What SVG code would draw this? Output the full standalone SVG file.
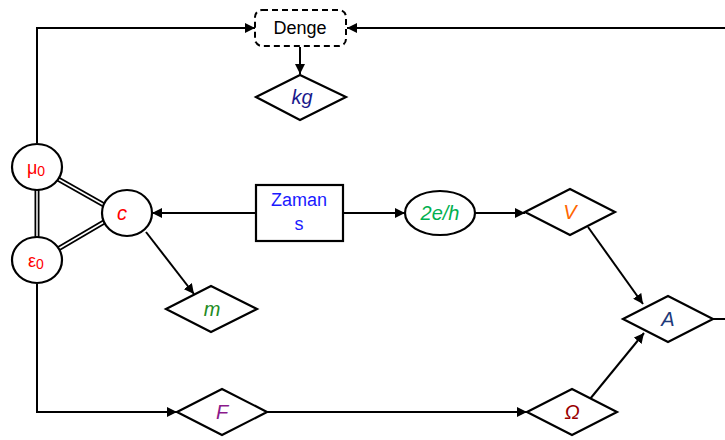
<svg xmlns="http://www.w3.org/2000/svg" width="725" height="440" viewBox="0 0 725 440">
<style>
.n{fill:#fff;stroke:#000;stroke-width:2.2}
.l{fill:none;stroke:#000;stroke-width:2}
text{font-family:"Liberation Sans",Arial,sans-serif;font-size:18px;text-anchor:middle;dominant-baseline:central}
.i{font-style:italic;font-size:20px}
</style>
<defs>
<marker id="a" viewBox="0 0 10 10" refX="10" refY="5" markerWidth="5" markerHeight="5" orient="auto"><path d="M0,0L10,5L0,10z" fill="#000"/></marker>
</defs>
<rect width="725" height="440" fill="#fff"/>
<g id="connectors">
<polyline class="l" points="37,143 37,28 255,28" marker-end="url(#a)"/>
<line class="l" x1="725" y1="28" x2="347" y2="28" marker-end="url(#a)"/>
<line class="l" x1="300" y1="47" x2="300" y2="74" marker-end="url(#a)"/>
<g stroke="#000" stroke-width="5"><line x1="37" y1="190" x2="37" y2="237"/><line x1="58" y1="179" x2="104" y2="205"/><line x1="58" y1="249" x2="104" y2="222"/></g>
<g stroke="#fff" stroke-width="1.5"><line x1="37" y1="190" x2="37" y2="237"/><line x1="58" y1="179" x2="104" y2="205"/><line x1="58" y1="249" x2="104" y2="222"/></g>
<line class="l" x1="256" y1="213" x2="152" y2="213" marker-end="url(#a)"/>
<line class="l" x1="343" y1="213" x2="405" y2="213" marker-end="url(#a)"/>
<line class="l" x1="475" y1="213" x2="525" y2="213" marker-end="url(#a)"/>
<line class="l" x1="146" y1="232" x2="194" y2="294" marker-end="url(#a)"/>
<line class="l" x1="588" y1="227" x2="643" y2="304" marker-end="url(#a)"/>
<line class="l" x1="590" y1="399" x2="644" y2="333" marker-end="url(#a)"/>
<line class="l" x1="713" y1="319" x2="725" y2="319"/>
<polyline class="l" points="37,284 37,412 177,412" marker-end="url(#a)"/>
<line class="l" x1="267" y1="412" x2="527" y2="412" marker-end="url(#a)"/>
</g>
<g id="denge"><rect x="255" y="10" width="91" height="36" rx="7" fill="#fff" stroke="#000" stroke-width="2" stroke-dasharray="6,4"/><text x="300" y="28" fill="#000">Denge</text></g>
<g id="kg"><polygon class="n" points="256,97 300,75 346,97 300,120"/><text class="i" x="302" y="97" fill="#1a1a8c">kg</text></g>
<g id="mu0"><ellipse class="n" cx="37" cy="167" rx="25" ry="23"/><text x="36" y="168" fill="#ff0000" font-size="19">μ<tspan font-size="14" dy="3">0</tspan></text></g>
<g id="eps0"><ellipse class="n" cx="37" cy="260" rx="25" ry="23"/><text x="36" y="261" fill="#ff0000" font-size="19">ε<tspan font-size="14" dy="3">0</tspan></text></g>
<g id="c"><ellipse class="n" cx="127" cy="213" rx="25" ry="23"/><text class="i" x="122" y="213" fill="#ff0000">c</text></g>
<g id="zaman"><rect class="n" x="256" y="185" width="87" height="56"/><text x="299" y="200" fill="#1a1aff" font-size="17">Zaman</text><text x="299" y="224" fill="#1a1aff" font-size="17">s</text></g>
<g id="2eh"><ellipse class="n" cx="440" cy="213" rx="35" ry="22"/><text class="i" x="440" y="213" fill="#00b050">2e/h</text></g>
<g id="V"><polygon class="n" points="525,212 570,189 615,212 570,235"/><text class="i" x="570" y="212" fill="#ff6600">V</text></g>
<g id="A"><polygon class="n" points="623,319 668,296 713,319 668,342"/><text class="i" x="668" y="319" fill="#1f3a7a">A</text></g>
<g id="m"><polygon class="n" points="166,309 211,286 257,309 211,332"/><text class="i" x="212" y="309" fill="#228b22">m</text></g>
<g id="F"><polygon class="n" points="177,412 222,389 267,412 222,435"/><text class="i" x="222" y="412" fill="#8b1a8b">F</text></g>
<g id="Omega"><polygon class="n" points="527,412 572,389 617,412 572,435"/><text class="i" x="572" y="412" fill="#990000">Ω</text></g>
</svg>
